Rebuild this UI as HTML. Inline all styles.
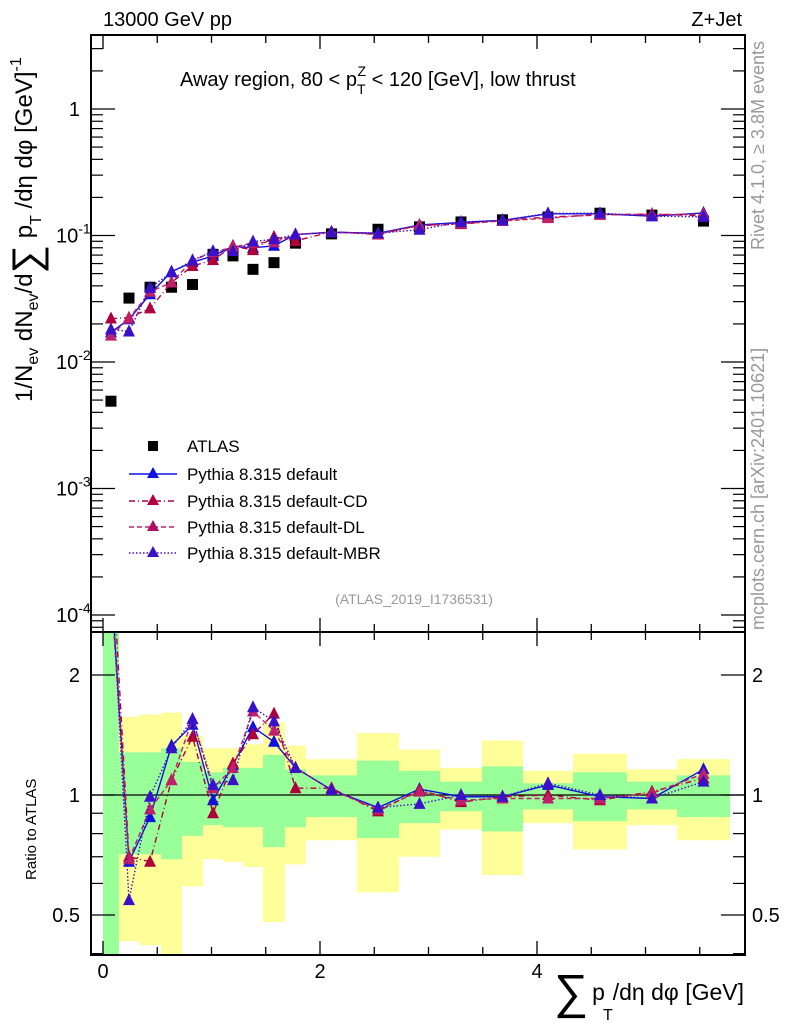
<!DOCTYPE html>
<html><head><meta charset="utf-8">
<style>
html,body{margin:0;padding:0;background:#fff;}
svg{display:block;font-family:"Liberation Sans",sans-serif;}
</style></head>
<body>
<svg id="chart" width="786" height="1024" viewBox="0 0 786 1024" xmlns="http://www.w3.org/2000/svg">
<g id="bands"></g>
<g id="marks"></g>
<g id="axes"></g>
<text x="103" y="26" font-size="20">13000 GeV pp</text>
<text x="742" y="26" font-size="20" text-anchor="end">Z+Jet</text>
<text x="180" y="86" font-size="20">Away region, 80 &lt; p<tspan font-size="14" dy="8">T</tspan><tspan font-size="14" dx="-8" dy="-18">Z</tspan><tspan dy="10"> &lt; 120 [GeV], low thrust</tspan></text>
<text transform="translate(764,250) rotate(-90)" font-size="18" fill="#999">Rivet 4.1.0, ≥ 3.8M events</text>
<text transform="translate(764,630) rotate(-90)" font-size="18" fill="#999">mcplots.cern.ch [arXiv:2401.10621]</text>
<text x="414" y="604" font-size="14" fill="#999" text-anchor="middle">(ATLAS_2019_I1736531)</text>
<text transform="translate(32,402) rotate(-90)" font-size="24">1/N<tspan font-size="16" dy="6">ev</tspan><tspan dy="-6"> dN</tspan><tspan font-size="16" dy="6">ev</tspan><tspan dy="-6">/d</tspan><tspan font-size="40" dy="8">∑</tspan><tspan dy="-8"> p</tspan><tspan font-size="16" dy="9">T</tspan><tspan dy="-9"> /dη dφ  [GeV]</tspan><tspan font-size="16" dy="-11">-1</tspan></text>
<text transform="translate(36,880) rotate(-90)" font-size="15">Ratio to ATLAS</text>
<text x="744" y="1000" font-size="23" text-anchor="end"><tspan font-size="48" dy="8">∑</tspan><tspan dy="-8" dx="4">p</tspan><tspan font-size="16" dy="20" dx="-2">T</tspan><tspan dy="-20">/dη dφ [GeV]</tspan></text>
<g font-size="17">
 <rect x="148" y="441" width="10" height="10" fill="#000"/>
 <text x="187" y="452">ATLAS</text>
 <line x1="129" y1="474" x2="177" y2="474" stroke="#1010e0" stroke-width="1.5"/>
 <polygon points="153,467 159,478 147,478" fill="#1010e0"/>
 <text x="187" y="480">Pythia 8.315 default</text>
 <line x1="129" y1="501" x2="177" y2="501" stroke="#b0003c" stroke-width="1.5" stroke-dasharray="6,3,1,3"/>
 <polygon points="153,494 159,505 147,505" fill="#b0003c"/>
 <text x="187" y="507">Pythia 8.315 default-CD</text>
 <line x1="129" y1="527" x2="177" y2="527" stroke="#c0206a" stroke-width="1.5" stroke-dasharray="5,3"/>
 <polygon points="153,520 159,531 147,531" fill="#b01060"/>
 <text x="187" y="533">Pythia 8.315 default-DL</text>
 <line x1="129" y1="553" x2="177" y2="553" stroke="#3a10d0" stroke-width="1.5" stroke-dasharray="1.5,2"/>
 <polygon points="153,546 159,557 147,557" fill="#3a10c8"/>
 <text x="187" y="559">Pythia 8.315 default-MBR</text>
</g>
</svg>
<script>
const binEdges = [0,0.147,0.332,0.535,0.728,0.922,1.106,1.29,1.475,1.677,1.871,2.341,2.728,3.106,3.493,3.871,4.332,4.829,5.29,5.779];
const atlasValues = [0.0049,0.032,0.039,0.039,0.041,0.071,0.069,0.054,0.061,0.087,0.103,0.112,0.117,0.128,0.133,0.14,0.15,0.145,0.13];
const ratioDefault = [3.5,0.68,0.88,1.33,1.50,0.97,1.19,1.48,1.36,1.17,1.03,0.93,1.035,0.99,0.99,1.06,0.99,0.98,1.16];
const ratioCD = [4.5,0.70,0.68,1.09,1.40,0.90,1.20,1.42,1.60,1.04,1.04,0.91,1.03,0.96,0.99,1.0,0.97,1.02,1.10];
const ratioDL = [3.3,0.69,0.92,1.09,1.55,1.04,1.17,1.62,1.45,1.17,1.03,0.92,1.02,0.97,0.98,0.98,0.98,1.01,1.13];
const ratioMBR = [3.7,0.545,0.99,1.31,1.55,1.06,1.09,1.66,1.53,1.17,1.03,0.93,0.95,1.0,0.99,1.07,1.0,0.98,1.08];
const greenHi = [2.7,1.28,1.28,1.31,1.21,1.14,1.17,1.17,1.26,1.16,1.12,1.22,1.15,1.08,1.18,1.07,1.14,1.08,1.12];
const greenLo = [0.3,0.71,0.71,0.69,0.79,0.84,0.83,0.83,0.74,0.83,0.88,0.78,0.85,0.91,0.81,0.92,0.86,0.92,0.88];
const yellowHi = [2.7,1.57,1.59,1.61,1.41,1.31,1.31,1.34,1.52,1.33,1.23,1.43,1.30,1.17,1.37,1.15,1.27,1.16,1.23];
const yellowLo = [0.3,0.43,0.42,0.3,0.59,0.69,0.68,0.66,0.48,0.67,0.77,0.57,0.70,0.82,0.63,0.85,0.73,0.84,0.77];
const xTicks = [0,2,4];
const mainYTicks = [1,0.1,0.01,0.001,0.0001];
const mainYLabels = [["1",""],["10","-1"],["10","-2"],["10","-3"],["10","-4"]];
const ratioYTicks = [2,1,0.5];
const ratioYLabels = ["2","1","0.5"];

const NS="http://www.w3.org/2000/svg";
const L=91,R=745,T=35,MB=632,RB=955;
const X=v=>103+v*108.5;
const Ym=v=>109-Math.log10(v)*126.5;
const Yr=v=>795-Math.log10(v)*398.6;
function mk(tag,attrs,parent){const e=document.createElementNS(NS,tag);for(const k in attrs)e.setAttribute(k,attrs[k]);parent.appendChild(e);return e;}
const bands=document.getElementById('bands'),marks=document.getElementById('marks'),axes=document.getElementById('axes');
for(let i=0;i<atlasValues.length;i++){
  const x0=X(binEdges[i]),x1=X(binEdges[i+1]);
  const yt=Math.max(MB,Yr(yellowHi[i])),yb=Math.min(RB,Yr(yellowLo[i]));
  const y=mk('rect',{x:x0,y:yt,width:x1-x0,height:yb-yt,fill:'#ffff99'},bands);
  
  
  const gt=Math.max(MB,Yr(greenHi[i])),gb=Math.min(RB,Yr(greenLo[i]));
  const g=mk('rect',{x:x0,y:gt,width:x1-x0,height:gb-gt,fill:'#99ff99'},bands);
  
  
}
const one=mk('line',{x1:L,x2:R,y1:Yr(1),y2:Yr(1),stroke:'#000','stroke-width':1.2},bands);


const mid=i=>(binEdges[i]+binEdges[i+1])/2;
atlasValues.forEach((v,i)=>{
  const r=mk('rect',{x:X(mid(i))-5.5,y:Ym(v)-5.5,width:11,height:11,fill:'#000'},marks);
  
  
});
const series=[
 {name:'default',r:ratioDefault,col:'#1010e0',dash:''},
 {name:'cd',r:ratioCD,col:'#b0003c',dash:'6,3,1,3'},
 {name:'dl',r:ratioDL,col:'#c0206a',dash:'5,3'},
 {name:'mbr',r:ratioMBR,col:'#3a10c8',dash:'1.5,2'}
];
const defs=mk('defs',{},marks);
const cm=mk('clipPath',{id:'cm'},defs);mk('rect',{x:L,y:T,width:R-L,height:MB-T},cm);
const cr=mk('clipPath',{id:'cr'},defs);mk('rect',{x:L,y:MB,width:R-L,height:RB-MB},cr);
const gm=mk('g',{'clip-path':'url(#cm)'},marks),gr=mk('g',{'clip-path':'url(#cr)'},marks);
series.forEach(s=>{
  const mp=s.r.map((r,i)=>[X(mid(i)),Ym(r*atlasValues[i])]);
  const rp=s.r.map((r,i)=>[X(mid(i)),Yr(r)]);
  [[mp,gm],[rp,gr]].forEach(([pts,g])=>{
    const pl=mk('polyline',{points:pts.map(p=>p.join(',')).join(' '),fill:'none',stroke:s.col,'stroke-width':1.4,'stroke-dasharray':s.dash},g);
    
    
    pts.forEach(p=>{
      const t=mk('polygon',{points:`${p[0]},${p[1]-7} ${p[0]+6},${p[1]+5} ${p[0]-6},${p[1]+5}`,fill:s.col},g);
      
      
    });
  });
});
[[T,MB],[MB,RB]].forEach(([a,b])=>{
  const f=mk('rect',{x:L,y:a,width:R-L,height:b-a,fill:'none',stroke:'#000','stroke-width':2},axes);
  
  
});
for(let v=0;v<=5.5;v+=0.5){
  const major=Math.abs(v-Math.round(v/2)*2)<1e-9;const len=major?14:8;
  [[T,1],[MB,-1],[MB,1],[RB,-1]].forEach(([y0,d])=>mk('line',{x1:X(v),x2:X(v),y1:y0,y2:y0+d*len,stroke:'#000','stroke-width':1.3},axes));
}
xTicks.forEach(v=>{
  const t=mk('text',{x:X(v),y:978,'font-size':20,'text-anchor':'middle'},axes);t.textContent=v;
  
  
});
for(let e=-5;e<1;e++){for(let m=1;m<10;m++){const v=m*Math.pow(10,e);const y=Ym(v);if(y<T||y>MB)continue;const len=m==1?24:12;
  mk('line',{x1:L,x2:L+len,y1:y,y2:y,stroke:'#000','stroke-width':1.2},axes);mk('line',{x1:R,x2:R-len,y1:y,y2:y,stroke:'#000','stroke-width':1.2},axes);}}
mainYTicks.forEach((v,i)=>{
  const t=mk('text',{x:80,y:Ym(v)+7,'font-size':20,'text-anchor':'end'},axes);
  
  
  if(mainYLabels[i][1]){t.setAttribute('x',56);t.setAttribute('text-anchor','start');t.textContent=mainYLabels[i][0];const s=mk('tspan',{'font-size':14,dy:-9},t);s.textContent=mainYLabels[i][1];}
  else t.textContent=mainYLabels[i][0];
});
for(let e=-1;e<1;e++){for(let m=1;m<10;m++){const v=m*Math.pow(10,e);const y=Yr(v);if(y<MB||y>RB)continue;const len=(v==1||v==2||v==0.5)?24:12;
  mk('line',{x1:L,x2:L+len,y1:y,y2:y,stroke:'#000','stroke-width':1.2},axes);mk('line',{x1:R,x2:R-len,y1:y,y2:y,stroke:'#000','stroke-width':1.2},axes);}}
ratioYTicks.forEach((v,i)=>{
  const a=mk('text',{x:80,y:Yr(v)+7,'font-size':20,'text-anchor':'end'},axes);a.textContent=ratioYLabels[i];
  
  
  const b=mk('text',{x:752,y:Yr(v)+7,'font-size':20},axes);b.textContent=ratioYLabels[i];
  
  
});
</script>
</body></html>
